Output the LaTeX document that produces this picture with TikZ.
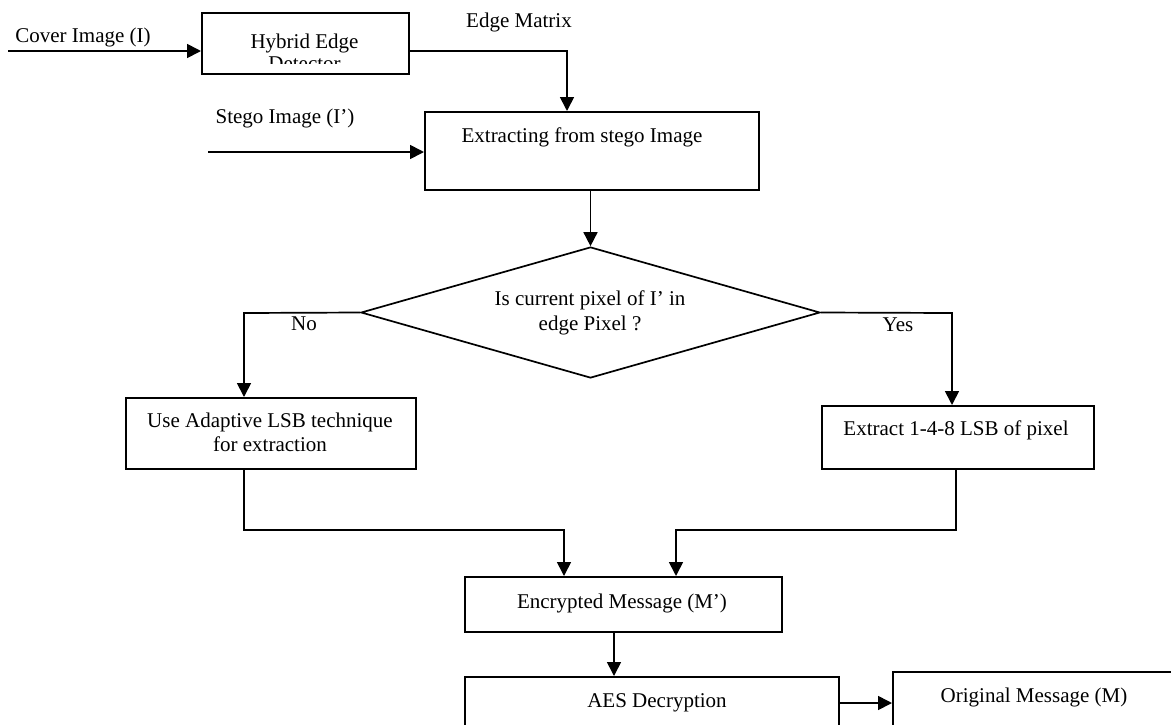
\documentclass[tikz,border=0pt]{standalone}
\usepackage{fontspec}
\setmainfont{Liberation Serif}
\usetikzlibrary{arrows.meta,shapes.geometric}
\begin{document}
\begin{tikzpicture}[x=1pt,y=-1pt,
  box/.style={draw, line width=1.7pt, inner sep=0pt, anchor=north west},
  arr/.style={line width=1.7pt, -{Triangle[length=14pt,width=14pt]}},
  txt/.style={font=\fontsize{21}{24}\selectfont, inner sep=0pt, anchor=base}]
\clip (0,0) rectangle (1171,724);
\fill[white] (0,0) rectangle (1171,724);
% boxes
\node[box, minimum width=207pt, minimum height=61pt] (hyb) at (201,12) {};
\node[box, minimum width=334pt, minimum height=78pt] (ext) at (424,111) {};
\node[draw, line width=1.7pt, shape=diamond, inner sep=0pt, minimum width=459pt, minimum height=131pt] (dia) at (590.5,312.5) {};
\node[box, minimum width=290pt, minimum height=71pt] (lbox) at (125,397) {};
\node[box, minimum width=272pt, minimum height=63pt] (rbox) at (821,405) {};
\node[box, minimum width=317pt, minimum height=55pt] (enc) at (464,576) {};
\node[box, minimum width=374pt, minimum height=70pt] (aes) at (464,676) {};
\node[box, minimum width=300pt, minimum height=75pt] (orig) at (892,671) {};
% texts
\node[txt] (tcover) at (83,42) {Cover Image (I)};
\node[txt] (thyb) at (304.5,48) {Hybrid Edge};
\begin{scope}
\clip (201,12) rectangle (408,63);
\node[txt] (tdet) at (304.5,70) {Detector};
\end{scope}
\node[txt] (tedge) at (519,27) {Edge Matrix};
\node[txt] (tstego) at (285,123) {Stego Image (I’)};
\node[txt] (text) at (582,142) {Extracting from stego Image};
\node[txt] (tdia1) at (590,305) {Is current pixel of I’ in};
\node[txt] (tdia2) at (590,330) {edge Pixel ?};
\node[txt] (tno) at (304,330) {No};
\node[txt] (tyes) at (898,331) {Yes};
\node[txt] (tl1) at (270,427) {Use Adaptive LSB technique};
\node[txt] (tl2) at (270,451) {for extraction};
\node[txt] (tr) at (956,435) {Extract 1-4-8 LSB of pixel};
\node[txt] (tenc) at (622,608) {Encrypted Message (M’)};
\node[txt] (taes) at (657,707) {AES Decryption};
\node[txt] (torig) at (1034,702) {Original Message (M)};
% connectors
\coordinate (cs) at (8,51);
\draw[arr] (cs) -- (cs -| hyb.west);
\coordinate (em) at (567,51);
\draw[arr] (hyb.east |- em) -- (em) -- (em |- ext.north);
\coordinate (ss) at (208,152);
\draw[arr] (ss) -- (ss -| ext.west);
\draw[arr] (ext.south -| dia.north) -- (dia.north);
\coordinate (nb) at (244,313);
\draw[arr] (dia.west) -- (nb) -- (nb |- lbox.north);
\coordinate (yb) at (952,313);
\draw[arr] (dia.east) -- (yb) -- (yb |- rbox.north);
\coordinate (lm) at (564,530);
\draw[arr] (lbox.south -| nb) |- (lm) -- (lm |- enc.north);
\coordinate (rd) at (956,530);
\coordinate (rm) at (676,530);
\draw[arr] (rd |- rbox.south) -- (rd) -- (rm) -- (rm |- enc.north);
\coordinate (ea) at (614,640);
\draw[arr] (enc.south -| ea) -- (ea |- aes.north);
\coordinate (ao) at (860,703);
\draw[arr] (aes.east |- ao) -- (ao -| orig.west);
\end{tikzpicture}
\end{document}
